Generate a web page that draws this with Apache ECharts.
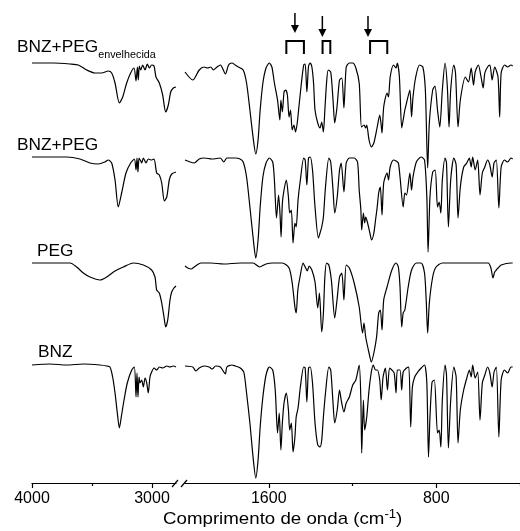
<!DOCTYPE html>
<html><head><meta charset="utf-8">
<script src="https://cdn.jsdelivr.net/npm/echarts@6/dist/echarts.min.js"></script>
<style>html,body{margin:0;padding:0;background:#fff}#c{width:520px;height:531px}</style>
</head><body><div id="c"></div>
<script>
// Wavenumber (cm-1) vs. offset transmittance (a.u.)
const envLeft = [[4000,420],[3822,420],[3683,419],[3614,418],[3544,413],[3475,410],[3419,410],[3364,412],[3336,410],[3308,400],[3272,380],[3244,386],[3211,400],[3178,410],[3150,415],[3133,402],[3122,416],[3114,403],[3106,417],[3094,413],[3078,418],[3058,413],[3039,419],[3022,415],[3003,418],[2983,417],[2967,406],[2939,400],[2911,388],[2886,371],[2864,378],[2844,391],[2822,395],[2800,396]];
const envRight = [[2000,411],[1963,403],[1932,413],[1909,416],[1893,415],[1877,416],[1865,413],[1847,416],[1831,418],[1807,409],[1792,418],[1776,420],[1760,418],[1745,416],[1722,413],[1706,400],[1690,373],[1675,346],[1662,329],[1651,343],[1641,373],[1628,400],[1613,415],[1597,420],[1585,416],[1573,400],[1558,383],[1547,363],[1542,383],[1535,371],[1527,391],[1519,393],[1511,388],[1503,366],[1496,373],[1488,353],[1480,358],[1472,351],[1464,360],[1456,376],[1444,400],[1433,418],[1426,419],[1418,391],[1410,417],[1402,420],[1394,416],[1386,400],[1379,373],[1366,360],[1355,355],[1347,361],[1339,351],[1332,373],[1324,400],[1316,413],[1304,411],[1293,383],[1285,360],[1274,376],[1262,403],[1251,405],[1241,375],[1230,416],[1215,420],[1199,420],[1184,415],[1168,400],[1157,356],[1145,358],[1137,355],[1132,358],[1121,343],[1110,336],[1098,340],[1082,356],[1070,368],[1063,358],[1059,350],[1051,376],[1035,390],[1028,386],[1020,406],[1004,418],[992,415],[986,420],[976,406],[965,355],[958,363],[950,373],[942,380],[926,393],[918,366],[911,386],[898,406],[880,418],[864,416],[852,393],[841,315],[833,360],[817,393],[806,397],[794,373],[783,356],[771,393],[758,420],[747,396],[739,356],[731,393],[716,418],[708,410],[696,356],[685,383],[661,406],[646,401],[633,415],[622,398],[614,411],[599,418],[586,406],[576,395],[568,410],[555,416],[544,418],[533,403],[521,416],[505,406],[497,366],[490,410],[474,418],[459,416],[443,418],[435,417]];
const mixLeft = [[4000,326],[3850,326],[3711,326],[3600,324],[3517,320],[3447,319],[3392,321],[3364,323],[3336,320],[3308,303],[3281,276],[3253,290],[3217,310],[3178,320],[3147,324],[3133,313],[3125,325],[3117,311],[3108,325],[3094,322],[3086,320],[3072,325],[3050,320],[3031,324],[3003,323],[2983,324],[2961,310],[2939,308],[2919,300],[2897,282],[2877,286],[2856,303],[2836,309],[2800,311]];
const mixRight = [[2000,323],[1956,320],[1932,324],[1909,325],[1870,324],[1831,325],[1815,321],[1800,325],[1776,325],[1760,325],[1737,324],[1722,321],[1706,306],[1690,276],[1675,246],[1662,225],[1651,243],[1641,276],[1628,306],[1613,320],[1597,325],[1581,321],[1573,303],[1563,265],[1553,288],[1546,268],[1541,246],[1535,280],[1527,293],[1516,303],[1506,286],[1500,270],[1492,273],[1484,240],[1475,260],[1469,256],[1460,283],[1449,303],[1433,325],[1426,323],[1418,298],[1410,325],[1402,326],[1391,313],[1379,276],[1363,245],[1355,250],[1347,256],[1339,266],[1329,296],[1313,325],[1304,321],[1293,293],[1285,270],[1273,286],[1262,313],[1254,320],[1241,291],[1230,320],[1215,325],[1192,325],[1176,321],[1168,293],[1160,273],[1156,253],[1148,270],[1142,260],[1137,266],[1129,261],[1117,250],[1109,243],[1098,250],[1090,263],[1082,276],[1075,290],[1067,296],[1059,268],[1051,300],[1035,310],[1028,303],[1020,316],[1004,323],[992,322],[981,320],[973,306],[958,276],[950,290],[942,288],[926,310],[918,293],[911,306],[895,321],[872,326],[856,323],[845,286],[839,231],[830,286],[817,311],[805,313],[794,276],[786,281],[778,270],[771,303],[758,325],[751,320],[742,256],[731,303],[716,325],[705,318],[696,265],[685,296],[669,316],[654,320],[642,325],[633,316],[626,326],[614,313],[602,323],[591,288],[580,310],[568,316],[555,323],[544,318],[533,306],[524,320],[513,323],[501,275],[490,316],[474,323],[459,321],[443,325],[435,324]];
const pegLeft = [[4000,220],[3850,220],[3683,220],[3628,216],[3572,210],[3517,206],[3433,203],[3378,206],[3308,212],[3239,216],[3156,220],[3072,218],[3003,213],[2975,206],[2961,193],[2939,190],[2919,180],[2900,166],[2886,156],[2869,163],[2850,183],[2836,191],[2817,195],[2800,197]];
const pegRight = [[2000,217],[1987,215],[1971,214],[1956,216],[1924,220],[1877,220],[1815,219],[1737,220],[1675,220],[1644,216],[1613,219],[1581,220],[1535,220],[1503,215],[1488,200],[1475,176],[1469,170],[1461,193],[1449,208],[1436,220],[1426,216],[1416,212],[1407,217],[1394,213],[1379,201],[1366,175],[1358,190],[1347,151],[1339,170],[1332,206],[1324,220],[1313,218],[1301,203],[1285,165],[1274,183],[1262,206],[1251,210],[1241,183],[1230,218],[1215,215],[1192,200],[1168,176],[1152,150],[1145,160],[1137,146],[1121,130],[1110,121],[1098,130],[1085,146],[1075,170],[1067,173],[1059,153],[1051,183],[1035,196],[1012,213],[992,220],[981,216],[973,196],[965,156],[958,170],[950,173],[934,196],[918,213],[895,220],[872,220],[856,210],[848,183],[841,150],[833,180],[817,206],[801,216],[771,220],[708,220],[630,220],[552,220],[539,215],[529,205],[521,211],[513,213],[505,215],[490,218],[443,220],[435,220]];
const bnzLeft = [[4000,118],[3850,119],[3711,118],[3572,119],[3433,118],[3378,117],[3350,116],[3328,106],[3308,90],[3289,70],[3272,55],[3256,66],[3233,83],[3206,100],[3169,113],[3147,116],[3133,86],[3125,110],[3117,86],[3108,106],[3100,100],[3086,103],[3072,96],[3058,105],[3044,100],[3031,90],[3017,106],[3003,111],[2983,115],[2961,113],[2939,116],[2911,115],[2877,117],[2850,116],[2822,117],[2800,116]];
const bnzRight = [[2000,117],[1963,116],[1948,112],[1932,115],[1909,117],[1885,116],[1870,114],[1854,117],[1831,116],[1815,111],[1807,109],[1800,116],[1776,118],[1760,117],[1745,116],[1730,114],[1718,110],[1706,90],[1690,60],[1675,26],[1662,5],[1651,23],[1641,56],[1628,86],[1613,108],[1597,116],[1581,113],[1569,93],[1558,50],[1550,70],[1542,33],[1535,60],[1527,80],[1516,90],[1506,73],[1500,53],[1492,60],[1484,31],[1475,46],[1469,66],[1460,75],[1449,96],[1433,116],[1426,115],[1418,81],[1410,115],[1402,116],[1391,100],[1379,60],[1366,38],[1355,36],[1347,43],[1339,66],[1329,90],[1313,116],[1304,113],[1293,80],[1285,60],[1273,73],[1262,93],[1254,83],[1241,71],[1230,80],[1215,86],[1199,98],[1184,103],[1168,118],[1160,83],[1156,30],[1148,83],[1142,53],[1132,66],[1121,93],[1110,111],[1101,118],[1090,113],[1081,113],[1070,103],[1063,83],[1054,106],[1043,115],[1033,93],[1023,115],[1012,113],[1001,110],[992,90],[986,113],[973,113],[965,93],[958,111],[942,115],[931,116],[922,56],[914,96],[903,106],[888,111],[872,115],[856,118],[845,100],[837,26],[830,66],[820,101],[809,103],[794,50],[786,53],[778,36],[771,83],[758,118],[751,108],[742,35],[731,83],[716,116],[705,106],[696,40],[685,73],[669,93],[654,105],[642,113],[633,106],[626,118],[614,105],[602,111],[591,63],[580,100],[568,108],[555,116],[544,110],[533,96],[524,111],[513,116],[501,46],[490,103],[474,113],[459,110],[443,116],[435,116]];

const leftTicks = [4000, 3000];
const leftMinor = [3500];
const rightTicks = [1600, 800];
const rightMinor = [1200, 400];
const spectrumNames = ['BNZ+PEG', 'BNZ+PEG', 'PEG', 'BNZ'];
const markedBands = [[1516, 1432], [1343, 1306], [1116, 1034]];
const arrowAt = [1475, 1344, 1126];

const FONT = '"Liberation Sans", Arial, Helvetica, sans-serif';
const chart = echarts.init(document.getElementById('c'), null, {renderer: 'canvas'});

function mkX(grid, min, max, ticks, major) {
  return {
    type: 'value', gridIndex: grid, min: min, max: max, inverse: true, position: 'bottom',
    axisLine: {show: major, onZero: false, lineStyle: {color: '#000', width: 1.2}},
    axisTick: {show: true, inside: false, length: major ? 5 : 3, customValues: ticks, lineStyle: {color: '#000', width: 1.2}},
    axisLabel: {show: major, customValues: ticks, formatter: v => String(v), color: '#000', fontSize: 16, fontFamily: FONT, margin: 8},
    splitLine: {show: false}
  };
}
function mkY(grid) {
  return {type: 'value', gridIndex: grid, min: 0, max: 483, show: false, splitLine: {show: false}};
}
function mkS(data, xi) {
  return {type: 'line', data: data, xAxisIndex: xi, yAxisIndex: xi, showSymbol: false, symbol: 'none',
    smooth: 0.25, lineStyle: {color: '#000', width: 1.2}, animation: false, clip: false};
}

chart.setOption({
  animation: false,
  backgroundColor: '#fff',
  grid: [
    {left: 32, width: 144, top: 0, bottom: 48},
    {left: 185, right: -7, top: 0, bottom: 48}
  ],
  xAxis: [
    mkX(0, 2800, 4000, leftTicks, true),
    mkX(1, 400, 2000, rightTicks, true),
    mkX(0, 2800, 4000, leftMinor, false),
    mkX(1, 400, 2000, rightMinor, false)
  ],
  yAxis: [mkY(0), mkY(1)],
  series: [
    mkS(envLeft, 0), mkS(envRight, 1),
    mkS(mixLeft, 0), mkS(mixRight, 1),
    mkS(pegLeft, 0), mkS(pegRight, 1),
    mkS(bnzLeft, 0), mkS(bnzRight, 1)
  ]
});

const px = v => chart.convertToPixel({xAxisIndex: 1}, v);
const g = [];
const lab = (x, y, style) => ({type: 'text', x: x, y: y, scaleX: 1.08, style: style});
// spectrum labels
g.push(lab(17, 40, {text: '{a|' + spectrumNames[0] + '}{s|envelhecida}', rich: {a: {fontSize: 16, fontFamily: FONT, fill: '#000', verticalAlign: 'bottom'}, s: {fontSize: 10, fontFamily: FONT, fill: '#000', verticalAlign: 'bottom', padding: [0, 0, -4, 0]}}}));
g.push(lab(17, 138, {text: spectrumNames[1], fontSize: 16, fontFamily: FONT, fill: '#000'}));
g.push(lab(37, 244, {text: spectrumNames[2], fontSize: 16, fontFamily: FONT, fill: '#000'}));
g.push(lab(38, 345, {text: spectrumNames[3], fontSize: 16, fontFamily: FONT, fill: '#000'}));
// brackets
markedBands.forEach(b => {
  const x1 = px(b[0]), x2 = px(b[1]);
  g.push({type: 'polyline', shape: {points: [[x1, 54], [x1, 41], [x2, 41], [x2, 54]]}, style: {stroke: '#000', lineWidth: 2, fill: null}});
});
arrowAt.forEach((a, i) => {
  const x = px(a); const top = i === 0 ? 13 : 16; const tip = i === 0 ? 33 : 37;
  g.push({type: 'line', shape: {x1: x, y1: top, x2: x, y2: tip - 6}, style: {stroke: '#000', lineWidth: 1.5}});
  g.push({type: 'polygon', shape: {points: [[x - 4, tip - 8], [x + 4, tip - 8], [x, tip]]}, style: {fill: '#000'}});
});
// axis break marks
g.push({type: 'line', shape: {x1: 172, y1: 487, x2: 178, y2: 480}, style: {stroke: '#000', lineWidth: 1.2}});
g.push({type: 'line', shape: {x1: 181, y1: 487, x2: 187, y2: 480}, style: {stroke: '#000', lineWidth: 1.2}});
// axis title
g.push({type: 'text', x: 163, y: 509, scaleX: 1.1, style: {text: '{a|Comprimento de onda (cm}{s|-1}{a|)}', rich: {a: {fontSize: 17, fontFamily: FONT, fill: '#000', verticalAlign: 'bottom'}, s: {fontSize: 12, fontFamily: FONT, fill: '#000', verticalAlign: 'bottom', padding: [0, 0, 7, 0]}}}});
chart.setOption({graphic: g});
</script></body></html>
